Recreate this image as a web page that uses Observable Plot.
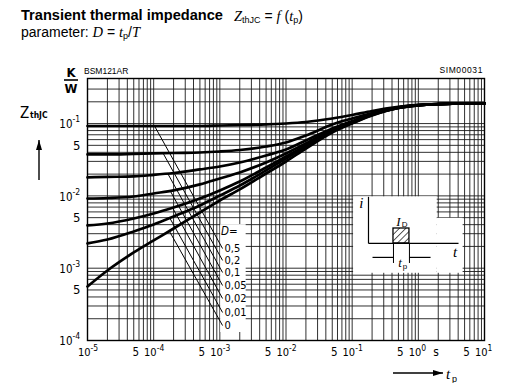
<!DOCTYPE html>
<html><head><meta charset="utf-8">
<script src="https://cdn.jsdelivr.net/npm/d3@7"></script>
<script src="https://cdn.jsdelivr.net/npm/@observablehq/plot@0.6"></script>
<style>
html,body{margin:0;padding:0;background:#fff;}
#wrap{position:relative;width:527px;height:383px;overflow:hidden;background:#fff;color:#000;}
.t1{position:absolute;left:21px;top:9.45px;font:bold 14.6px "Liberation Sans",Arial,sans-serif;line-height:13px;white-space:nowrap;}
.t1m{position:absolute;left:234px;top:9.65px;font:14px "Liberation Sans",Arial,sans-serif;line-height:13px;white-space:nowrap;}
.t2{position:absolute;left:21px;top:25.65px;font:14px "Liberation Sans",Arial,sans-serif;line-height:13px;white-space:nowrap;}
.it{font-family:"Liberation Serif","Times New Roman",serif;font-style:italic;font-size:14.5px;}
.sb{font-size:9px;position:relative;top:2px;}
#chart{position:absolute;left:0;top:48px;}
</style></head>
<body><div id="wrap">
<div class="t1">Transient thermal impedance</div>
<div class="t1m"><span class="it">Z</span><span class="sb">thJC</span> = <span class="it">f</span> (<span class="it">t</span><span class="sb">p</span>)</div>
<div class="t2">parameter: <span class="it">D</span> = <span class="it">t</span><span class="sb">p</span>/<span class="it">T</span></div>
<div id="chart"></div>
</div>
<script>
const ISO = "'Liberation Sans Narrow','DejaVu Sans Condensed','Arial Narrow',sans-serif";
const SANS = "'Liberation Sans',Arial,sans-serif";
const SERIF = "'Liberation Serif','Times New Roman',serif";

// ---- data (pulse time t_p in s, Z_thJC in K/W) ----
const tp = [1e-5,2e-5,5e-5,1e-4,2e-4,5e-4,1e-3,2e-3,5e-3,1e-2,2e-2,5e-2,0.1,0.2,0.5,1,2,5,10];
const dutyLabels = ["0,5","0,2","0,1","0,05","0,02","0,01","0"];
const zthD05  = [0.0926,0.0926,0.0926,0.0926,0.0926,0.0926,0.0941,0.0956,0.0972,0.1003,0.1052,0.1176,0.1315,0.1494,0.1697,0.1808,0.1866,0.1897,0.1897];
const zthD02  = [0.0374,0.0374,0.0380,0.0386,0.0392,0.0398,0.0411,0.0431,0.0482,0.0548,0.0684,0.0972,0.1176,0.1402,0.1680,0.1800,0.1862,0.1897,0.1897];
const zthD01  = [0.0180,0.0183,0.0186,0.0195,0.0207,0.0232,0.0255,0.0290,0.0362,0.0438,0.0584,0.0855,0.1086,0.1358,0.1670,0.1795,0.1860,0.1897,0.1897];
const zthD005 = [0.00920,0.00935,0.00981,0.0108,0.0119,0.0144,0.0174,0.0211,0.0290,0.0386,0.0531,0.0829,0.1052,0.1336,0.1660,0.1791,0.1858,0.1897,0.1897];
const zthD002 = [0.00390,0.00415,0.00487,0.00571,0.00691,0.00920,0.0119,0.0158,0.0247,0.0351,0.0498,0.0803,0.1035,0.1336,0.1650,0.1788,0.1856,0.1897,0.1897];
const zthD001 = [0.00220,0.00249,0.00322,0.00402,0.00519,0.00737,0.0101,0.0139,0.0225,0.0329,0.0482,0.0790,0.1019,0.1315,0.1645,0.1785,0.1855,0.1897,0.1897];
const zthD0   = [0.000558,0.000929,0.00165,0.00242,0.00354,0.00589,0.00864,0.0123,0.0204,0.0299,0.0452,0.0753,0.1003,0.1294,0.1640,0.1780,0.1853,0.1897,0.1897];
const seriesZ = [zthD05, zthD02, zthD01, zthD005, zthD002, zthD001, zthD0];

// leader lines from each curve to its D label
const leaderT0 = [1.03e-4,1.39e-4,1.64e-4,1.80e-4,1.93e-4,1.75e-4,1.72e-4];
const leaderZ0 = [0.0926,0.0388,0.0202,0.0115,0.00684,0.00495,0.00327];
const leaderT1 = [1.1e-3,1.1e-3,1.1e-3,1.1e-3,1.1e-3,1.1e-3,1.1e-3];
const leaderZ1 = [0.00187,0.00128,0.000872,0.000576,0.000381,0.000244,0.000161];
const dHeadT = [1.1e-3], dHeadZ = [0.00322];

// axis tick labels
const xDecades = [1e-5,1e-4,1e-3,1e-2,1e-1,1,10];
const xDecadeExp = ["-5","-4","-3","-2","-1","0","1"];
const xFives = [5e-5,5e-4,5e-3,5e-2,0.5,5];
const xUnitAt = [1.85];
const yDecades = [1e-4,1e-3,1e-2,1e-1];
const yDecadeExp = ["-4","-3","-2","-1"];
const yFives = [5e-4,5e-3,5e-2];
const gridMult = [1,2,3,4,5,6,7,8,9];
const gridT = [1e-5,1e-4,1e-3,1e-2,1e-1,1].flatMap(p => gridMult.map(m => m*p)).concat([10]);
const gridZ = [1e-4,1e-3,1e-2].flatMap(p => gridMult.map(m => m*p)).concat([0.1,0.2,0.3]);

// inset pulse sketch (in chart units)
const insetMask = [{t1:0.105,t2:1.93,z1:0.00085,z2:0.0097},{t1:1.93,t2:4.75,z1:0.00085,z2:0.0049}];
const labelMask = [{t1:1.03e-3,t2:2.5e-3,z1:0.000129,z2:0.0040}];
const insetArrows = [
  {t1:0.1765,z1:0.0022,t2:0.1765,z2:0.0097},
  {t1:0.1765,z1:0.0022,t2:4.05,z2:0.0022},
  {t1:0.203,z1:0.00141,t2:0.421,z2:0.00141},
  {t1:1.53,z1:0.00141,t2:0.734,z2:0.00141}
];
const insetLines = [
  {t1:0.421,z1:0.0022,t2:0.421,z2:0.00118},
  {t1:0.734,z1:0.0022,t2:0.734,z2:0.00118}
];
const pulse = [{t1:0.421,t2:0.734,z1:0.0022,z2:0.00354}];

const rows = seriesZ.flatMap((zs,k) => zs.map((z,i) => ({t: tp[i], z, D: dutyLabels[k]})));

const chart = Plot.plot({
  width: 527, height: 335,
  marginLeft: 87, marginRight: 43, marginTop: 30, marginBottom: 43,
  x: {type: "log", domain: [1e-5, 10], axis: null},
  y: {type: "log", domain: [1e-4, 0.42], axis: null},
  style: {background: "white", color: "black", fontFamily: ISO, fontSize: "11px"},
  marks: [
    Plot.ruleX(gridT, {x: d => d, stroke: "#1a1a1a", strokeWidth: 0.9}),
    Plot.ruleY(gridZ, {y: d => d, stroke: "#1a1a1a", strokeWidth: 0.9}),
    Plot.rect(insetMask, {x1: "t1", x2: "t2", y1: "z1", y2: "z2", fill: "white"}),
    Plot.rect(labelMask, {x1: "t1", x2: "t2", y1: "z1", y2: "z2", fill: "white"}),
    Plot.frame({stroke: "black", strokeWidth: 1.4}),
    Plot.line(rows, {x: "t", y: "z", z: "D", stroke: "black", strokeWidth: 2.7, curve: "monotone-x", strokeLinejoin: "round"}),
    Plot.link(dutyLabels, {x1: (d,i) => leaderT0[i], y1: (d,i) => leaderZ0[i], x2: (d,i) => leaderT1[i], y2: (d,i) => leaderZ1[i], stroke: "black", strokeWidth: 1}),
    Plot.text(dutyLabels, {x: (d,i) => leaderT1[i], y: (d,i) => leaderZ1[i], text: d => d, textAnchor: "start", dx: 2, fontSize: 11, fontFamily: ISO, fill: "black"}),
    Plot.text(["D="], {x: dHeadT, y: dHeadZ, text: d => d, textAnchor: "start", dx: -1.5, fontSize: 11.5, fontStyle: "italic", fontFamily: ISO, fill: "black"}),
    // inset
    Plot.rect(pulse, {x1: "t1", x2: "t2", y1: "z1", y2: "z2", fill: "url(#hatch)", stroke: "black", strokeWidth: 1.3}),
    Plot.link(insetArrows, {x1: "t1", y1: "z1", x2: "t2", y2: "z2", stroke: "black", strokeWidth: 1.2, ariaLabel: "arrow-link"}),
    Plot.link(insetLines, {x1: "t1", y1: "z1", x2: "t2", y2: "z2", stroke: "black", strokeWidth: 1}),
    Plot.text(["i"], {x: [0.138], y: [0.00785], text: d => d, fontFamily: SERIF, fontStyle: "italic", fontSize: 15, fill: "black"}),
    Plot.text(["t"], {x: [3.58], y: [0.00165], text: d => d, fontFamily: SERIF, fontStyle: "italic", fontSize: 15, fill: "black"}),
    Plot.text(["I"], {x: [0.50], y: [0.00442], text: d => d, fontFamily: SERIF, fontStyle: "italic", fontSize: 13, fill: "black"}),
    Plot.text(["D"], {x: [0.62], y: [0.00400], text: d => d, fontFamily: SANS, fontSize: 8, fill: "black"}),
    Plot.text(["t"], {x: [0.528], y: [0.00120], text: d => d, fontFamily: SERIF, fontStyle: "italic", fontSize: 13, fill: "black"}),
    Plot.text(["p"], {x: [0.628], y: [0.00106], text: d => d, fontFamily: SANS, fontSize: 8, fill: "black"}),
    // x tick labels
    Plot.text(xDecades, {x: d => d, text: () => "10", frameAnchor: "bottom", textAnchor: "end", dx: 3, dy: 15, fontSize: 11, fontFamily: ISO, fill: "black"}),
    Plot.text(xDecades, {x: d => d, text: (d,i) => xDecadeExp[i], frameAnchor: "bottom", textAnchor: "start", dx: 3, dy: 10, fontSize: 8.5, fontFamily: ISO, fill: "black"}),
    Plot.text(xFives, {x: d => d, text: () => "5", frameAnchor: "bottom", textAnchor: "middle", dx: 2, dy: 15, fontSize: 11.5, fontFamily: ISO, fill: "black"}),
    Plot.text(xUnitAt, {x: d => d, text: () => "s", frameAnchor: "bottom", textAnchor: "middle", dy: 15, fontSize: 12, fontFamily: ISO, fill: "black"}),
    // y tick labels
    Plot.text(yDecades, {y: d => d, text: () => "10", frameAnchor: "left", textAnchor: "end", dx: -15, dy: 1, fontSize: 11.5, fontFamily: ISO, fill: "black"}),
    Plot.text(yDecades, {y: d => d, text: (d,i) => yDecadeExp[i], frameAnchor: "left", textAnchor: "start", dx: -15, dy: -4, fontSize: 8.5, fontFamily: ISO, fill: "black"}),
    Plot.text(yFives, {y: d => d, text: () => "5", frameAnchor: "left", textAnchor: "end", dx: -7, dy: 0, fontSize: 13, fontFamily: ISO, fill: "black"})
  ]
});
document.getElementById("chart").appendChild(chart);

const svg = d3.select(chart);
const defs = svg.insert("defs", ":first-child");
defs.append("marker").attr("id", "ah").attr("viewBox", "0 0 10 6").attr("refX", 10).attr("refY", 3)
  .attr("markerWidth", 10).attr("markerHeight", 6).attr("markerUnits", "userSpaceOnUse").attr("orient", "auto")
  .append("path").attr("d", "M0,0L10,3L0,6Z").attr("fill", "black");
const pat = defs.append("pattern").attr("id", "hatch").attr("patternUnits", "userSpaceOnUse")
  .attr("width", 4.5).attr("height", 4.5).attr("patternTransform", "rotate(45)");
pat.append("rect").attr("width", 4.5).attr("height", 4.5).attr("fill", "white");
pat.append("line").attr("x1", 0).attr("y1", 0).attr("x2", 0).attr("y2", 4.5).attr("stroke", "black").attr("stroke-width", 1.3);
svg.selectAll('g[aria-label="arrow-link"] path').attr("marker-end", "url(#ah)");

// annotations outside the frame
const ann = svg.append("g").attr("fill", "black").attr("text-anchor", "start");
ann.append("text").attr("x", 71).attr("y", 29).attr("text-anchor", "middle").style("font", "bold 13px " + ISO).text("K");
ann.append("line").attr("x1", 64).attr("x2", 78).attr("y1", 32).attr("y2", 32).attr("stroke", "black").attr("stroke-width", 1.6);
ann.append("text").attr("x", 71).attr("y", 45).attr("text-anchor", "middle").style("font", "bold 13px " + ISO).text("W");
ann.append("text").attr("x", 84).attr("y", 26).attr("text-anchor", "start").style("font", "8.5px " + SANS).text("BSM121AR");
ann.append("text").attr("x", 483).attr("y", 25).attr("text-anchor", "end").style("font", "8.5px " + SANS).style("letter-spacing", "0.6px").text("SIM00031");
ann.append("text").attr("x", 20).attr("y", 70).attr("text-anchor", "start").style("font", "15px " + ISO).text("Z");
ann.append("text").attr("x", 30).attr("y", 70).attr("text-anchor", "start").style("font", "bold 8.5px " + ISO).text("thJC");
ann.append("line").attr("x1", 39).attr("x2", 39).attr("y1", 132).attr("y2", 92).attr("stroke", "black").attr("stroke-width", 1.4).attr("marker-end", "url(#ah)");
ann.append("line").attr("x1", 393).attr("x2", 443).attr("y1", 325).attr("y2", 325).attr("stroke", "black").attr("stroke-width", 1.4).attr("marker-end", "url(#ah)");
ann.append("text").attr("x", 446).attr("y", 331).attr("text-anchor", "start").style("font", "italic 15px " + SERIF).text("t");
ann.append("text").attr("x", 452).attr("y", 334).attr("text-anchor", "start").style("font", "9px " + SANS).text("p");
</script>
</body></html>
